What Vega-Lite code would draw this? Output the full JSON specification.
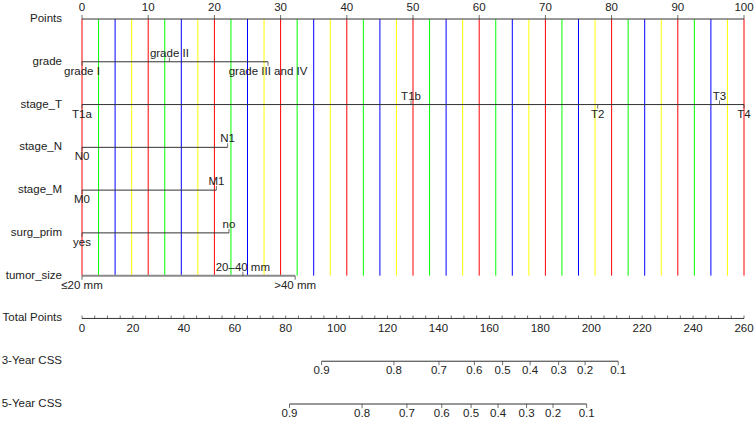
{
  "$schema": "https://vega.github.io/schema/vega-lite/v6.json",
  "width": 662,
  "height": 385,
  "autosize": {"type": "none"},
  "padding": {"left": 82, "top": 19, "right": 11, "bottom": 18},
  "background": "white",
  "config": {
    "view": {"stroke": null},
    "text": {"font": "Liberation Sans", "fontSize": 11.5, "color": "#222"}
  },
  "datasets": {
    "rows": [
      {"row": "Points"}, {"row": "grade"}, {"row": "stage_T"}, {"row": "stage_N"}, {"row": "stage_M"},
      {"row": "surg_prim"}, {"row": "tumor_size"}, {"row": "Total Points"}, {"row": "3-Year CSS"}, {"row": "5-Year CSS"}
    ],
    "vlines": [
      {"p": 0, "hue": "r"}, {"p": 2.5, "hue": "g"}, {"p": 5, "hue": "b"}, {"p": 7.5, "hue": "y"},
      {"p": 10, "hue": "r"}, {"p": 12.5, "hue": "g"}, {"p": 15, "hue": "b"}, {"p": 17.5, "hue": "y"},
      {"p": 20, "hue": "r"}, {"p": 22.5, "hue": "g"}, {"p": 25, "hue": "b"}, {"p": 27.5, "hue": "y"},
      {"p": 30, "hue": "r"}, {"p": 32.5, "hue": "g"}, {"p": 35, "hue": "b"}, {"p": 37.5, "hue": "y"},
      {"p": 40, "hue": "r"}, {"p": 42.5, "hue": "g"}, {"p": 45, "hue": "b"}, {"p": 47.5, "hue": "y"},
      {"p": 50, "hue": "r"}, {"p": 52.5, "hue": "g"}, {"p": 55, "hue": "b"}, {"p": 57.5, "hue": "y"},
      {"p": 60, "hue": "r"}, {"p": 62.5, "hue": "g"}, {"p": 65, "hue": "b"}, {"p": 67.5, "hue": "y"},
      {"p": 70, "hue": "r"}, {"p": 72.5, "hue": "g"}, {"p": 75, "hue": "b"}, {"p": 77.5, "hue": "y"},
      {"p": 80, "hue": "r"}, {"p": 82.5, "hue": "g"}, {"p": 85, "hue": "b"}, {"p": 87.5, "hue": "y"},
      {"p": 90, "hue": "r"}, {"p": 92.5, "hue": "g"}, {"p": 95, "hue": "b"}, {"p": 97.5, "hue": "y"},
      {"p": 100, "hue": "r"}
    ],
    "axes": [
      {"row": "Points", "a": 0, "b": 100},
      {"row": "grade", "a": 0, "b": 28.1},
      {"row": "stage_T", "a": 0, "b": 100},
      {"row": "stage_N", "a": 0, "b": 22},
      {"row": "stage_M", "a": 0, "b": 20.3},
      {"row": "surg_prim", "a": 0, "b": 22.2},
      {"row": "tumor_size", "a": 0, "b": 32.2}
    ],
    "pointTicks": [
      {"row": "Points", "v": 0, "label": "0"}, {"row": "Points", "v": 10, "label": "10"},
      {"row": "Points", "v": 20, "label": "20"}, {"row": "Points", "v": 30, "label": "30"},
      {"row": "Points", "v": 40, "label": "40"}, {"row": "Points", "v": 50, "label": "50"},
      {"row": "Points", "v": 60, "label": "60"}, {"row": "Points", "v": 70, "label": "70"},
      {"row": "Points", "v": 80, "label": "80"}, {"row": "Points", "v": 90, "label": "90"},
      {"row": "Points", "v": 100, "label": "100"}
    ],
    "levels": [
      {"row": "grade", "v": 0, "label": "grade I", "side": "below"},
      {"row": "grade", "v": 13.2, "label": "grade II", "side": "above"},
      {"row": "grade", "v": 28.1, "label": "grade III and IV", "side": "below"},
      {"row": "stage_T", "v": 0, "label": "T1a", "side": "below"},
      {"row": "stage_T", "v": 49.7, "label": "T1b", "side": "above"},
      {"row": "stage_T", "v": 77.9, "label": "T2", "side": "below"},
      {"row": "stage_T", "v": 96.3, "label": "T3", "side": "above"},
      {"row": "stage_T", "v": 100, "label": "T4", "side": "below"},
      {"row": "stage_N", "v": 0, "label": "N0", "side": "below"},
      {"row": "stage_N", "v": 22, "label": "N1", "side": "above"},
      {"row": "stage_M", "v": 0, "label": "M0", "side": "below"},
      {"row": "stage_M", "v": 20.3, "label": "M1", "side": "above"},
      {"row": "surg_prim", "v": 0, "label": "yes", "side": "below"},
      {"row": "surg_prim", "v": 22.2, "label": "no", "side": "above"},
      {"row": "tumor_size", "v": 0, "label": "≤20 mm", "side": "below"},
      {"row": "tumor_size", "v": 24.3, "label": "20–40 mm", "side": "above"},
      {"row": "tumor_size", "v": 32.2, "label": ">40 mm", "side": "below"}
    ],
    "totAxes": [
      {"row": "Total Points", "a": 0, "b": 260},
      {"row": "3-Year CSS", "a": 94.1, "b": 210.6},
      {"row": "5-Year CSS", "a": 81.5, "b": 198.2}
    ],
    "totTicks": [
      {"v": 0}, {"v": 5}, {"v": 10}, {"v": 15}, {"v": 20}, {"v": 25}, {"v": 30}, {"v": 35}, {"v": 40}, {"v": 45},
      {"v": 50}, {"v": 55}, {"v": 60}, {"v": 65}, {"v": 70}, {"v": 75}, {"v": 80}, {"v": 85}, {"v": 90}, {"v": 95},
      {"v": 100}, {"v": 105}, {"v": 110}, {"v": 115}, {"v": 120}, {"v": 125}, {"v": 130}, {"v": 135}, {"v": 140}, {"v": 145},
      {"v": 150}, {"v": 155}, {"v": 160}, {"v": 165}, {"v": 170}, {"v": 175}, {"v": 180}, {"v": 185}, {"v": 190}, {"v": 195},
      {"v": 200}, {"v": 205}, {"v": 210}, {"v": 215}, {"v": 220}, {"v": 225}, {"v": 230}, {"v": 235}, {"v": 240}, {"v": 245},
      {"v": 250}, {"v": 255}, {"v": 260}
    ],
    "totLabels": [
      {"v": 0, "label": "0"}, {"v": 20, "label": "20"}, {"v": 40, "label": "40"}, {"v": 60, "label": "60"},
      {"v": 80, "label": "80"}, {"v": 100, "label": "100"}, {"v": 120, "label": "120"}, {"v": 140, "label": "140"},
      {"v": 160, "label": "160"}, {"v": 180, "label": "180"}, {"v": 200, "label": "200"}, {"v": 220, "label": "220"},
      {"v": 240, "label": "240"}, {"v": 260, "label": "260"}
    ],
    "css": [
      {"row": "3-Year CSS", "v": 94.1, "label": "0.9"},
      {"row": "3-Year CSS", "v": 122.5, "label": "0.8"},
      {"row": "3-Year CSS", "v": 140.2, "label": "0.7"},
      {"row": "3-Year CSS", "v": 154.1, "label": "0.6"},
      {"row": "3-Year CSS", "v": 165.2, "label": "0.5"},
      {"row": "3-Year CSS", "v": 176.0, "label": "0.4"},
      {"row": "3-Year CSS", "v": 187.2, "label": "0.3"},
      {"row": "3-Year CSS", "v": 197.6, "label": "0.2"},
      {"row": "3-Year CSS", "v": 210.6, "label": "0.1"},
      {"row": "5-Year CSS", "v": 81.5, "label": "0.9"},
      {"row": "5-Year CSS", "v": 110.0, "label": "0.8"},
      {"row": "5-Year CSS", "v": 127.6, "label": "0.7"},
      {"row": "5-Year CSS", "v": 141.3, "label": "0.6"},
      {"row": "5-Year CSS", "v": 152.8, "label": "0.5"},
      {"row": "5-Year CSS", "v": 163.4, "label": "0.4"},
      {"row": "5-Year CSS", "v": 174.6, "label": "0.3"},
      {"row": "5-Year CSS", "v": 185.0, "label": "0.2"},
      {"row": "5-Year CSS", "v": 198.2, "label": "0.1"}
    ]
  },
  "layer": [
    {
      "layer": [
        {
          "data": {"name": "vlines"},
          "mark": {"type": "rule", "strokeWidth": 1},
          "encoding": {
            "x": {"field": "p", "type": "quantitative", "scale": {"domain": [0, 100], "nice": false, "zero": false}, "axis": null},
            "y": {"datum": "Points", "type": "nominal", "scale": {"type": "point", "padding": 0, "domain": ["Points", "grade", "stage_T", "stage_N", "stage_M", "surg_prim", "tumor_size", "Total Points", "3-Year CSS", "5-Year CSS"]}, "axis": null},
            "y2": {"datum": "tumor_size"},
            "color": {"field": "hue", "type": "nominal", "scale": {"domain": ["r", "g", "b", "y"], "range": ["#ff0000", "#00ff00", "#0000ff", "#ffff00"]}, "legend": null}
          }
        },
        {
          "data": {"name": "axes"},
          "mark": {"type": "rule"},
          "encoding": {
            "x": {"field": "a", "type": "quantitative"},
            "x2": {"field": "b"},
            "y": {"field": "row", "type": "nominal"},
            "color": {"condition": {"test": "datum.row === 'tumor_size'", "value": "#8a8a8a"}, "value": "#333333"},
            "strokeWidth": {"condition": {"test": "datum.row === 'tumor_size'", "value": 2}, "value": 1}
          }
        },
        {
          "data": {"name": "pointTicks"},
          "mark": {"type": "tick", "size": 4, "thickness": 1, "yOffset": -2, "color": "#333333"},
          "encoding": {
            "x": {"field": "v", "type": "quantitative"},
            "y": {"field": "row", "type": "nominal"}
          }
        },
        {
          "data": {"name": "pointTicks"},
          "mark": {"type": "text", "baseline": "alphabetic", "dy": -8},
          "encoding": {
            "x": {"field": "v", "type": "quantitative"},
            "y": {"field": "row", "type": "nominal"},
            "text": {"field": "label"}
          }
        },
        {
          "data": {"name": "levels"},
          "transform": [{"filter": "datum.side === 'above'"}],
          "mark": {"type": "tick", "size": 4, "thickness": 1, "yOffset": -2, "color": "#333333"},
          "encoding": {
            "x": {"field": "v", "type": "quantitative"},
            "y": {"field": "row", "type": "nominal"}
          }
        },
        {
          "data": {"name": "levels"},
          "transform": [{"filter": "datum.side === 'below'"}],
          "mark": {"type": "tick", "size": 4, "thickness": 1, "yOffset": 2, "color": "#333333"},
          "encoding": {
            "x": {"field": "v", "type": "quantitative"},
            "y": {"field": "row", "type": "nominal"}
          }
        },
        {
          "data": {"name": "levels"},
          "transform": [{"filter": "datum.side === 'above'"}],
          "mark": {"type": "text", "baseline": "alphabetic", "dy": -5},
          "encoding": {
            "x": {"field": "v", "type": "quantitative"},
            "y": {"field": "row", "type": "nominal"},
            "text": {"field": "label"}
          }
        },
        {
          "data": {"name": "levels"},
          "transform": [{"filter": "datum.side === 'below'"}],
          "mark": {"type": "text", "baseline": "top", "dy": 4},
          "encoding": {
            "x": {"field": "v", "type": "quantitative"},
            "y": {"field": "row", "type": "nominal"},
            "text": {"field": "label"}
          }
        },
        {
          "data": {"name": "rows"},
          "mark": {"type": "text", "align": "right", "baseline": "middle", "dx": -20},
          "encoding": {
            "x": {"datum": 0, "type": "quantitative"},
            "y": {"field": "row", "type": "nominal"},
            "text": {"field": "row"}
          }
        }
      ]
    },
    {
      "layer": [
        {
          "data": {"name": "totAxes"},
          "mark": {"type": "rule", "color": "#333333", "strokeWidth": 1},
          "encoding": {
            "x": {"field": "a", "type": "quantitative", "scale": {"domain": [0, 260], "nice": false, "zero": false}, "axis": null},
            "x2": {"field": "b"},
            "y": {"field": "row", "type": "nominal"}
          }
        },
        {
          "data": {"name": "totTicks"},
          "mark": {"type": "tick", "size": 3, "thickness": 1, "yOffset": -1.5, "color": "#333333"},
          "encoding": {
            "x": {"field": "v", "type": "quantitative"},
            "y": {"datum": "Total Points", "type": "nominal"}
          }
        },
        {
          "data": {"name": "totLabels"},
          "mark": {"type": "text", "baseline": "top", "dy": 5},
          "encoding": {
            "x": {"field": "v", "type": "quantitative"},
            "y": {"datum": "Total Points", "type": "nominal"},
            "text": {"field": "label"}
          }
        },
        {
          "data": {"name": "css"},
          "mark": {"type": "tick", "size": 4, "thickness": 1, "yOffset": 2, "color": "#333333"},
          "encoding": {
            "x": {"field": "v", "type": "quantitative"},
            "y": {"field": "row", "type": "nominal"}
          }
        },
        {
          "data": {"name": "css"},
          "mark": {"type": "text", "baseline": "top", "dy": 4},
          "encoding": {
            "x": {"field": "v", "type": "quantitative"},
            "y": {"field": "row", "type": "nominal"},
            "text": {"field": "label"}
          }
        }
      ]
    }
  ],
  "resolve": {"scale": {"x": "independent"}}
}
